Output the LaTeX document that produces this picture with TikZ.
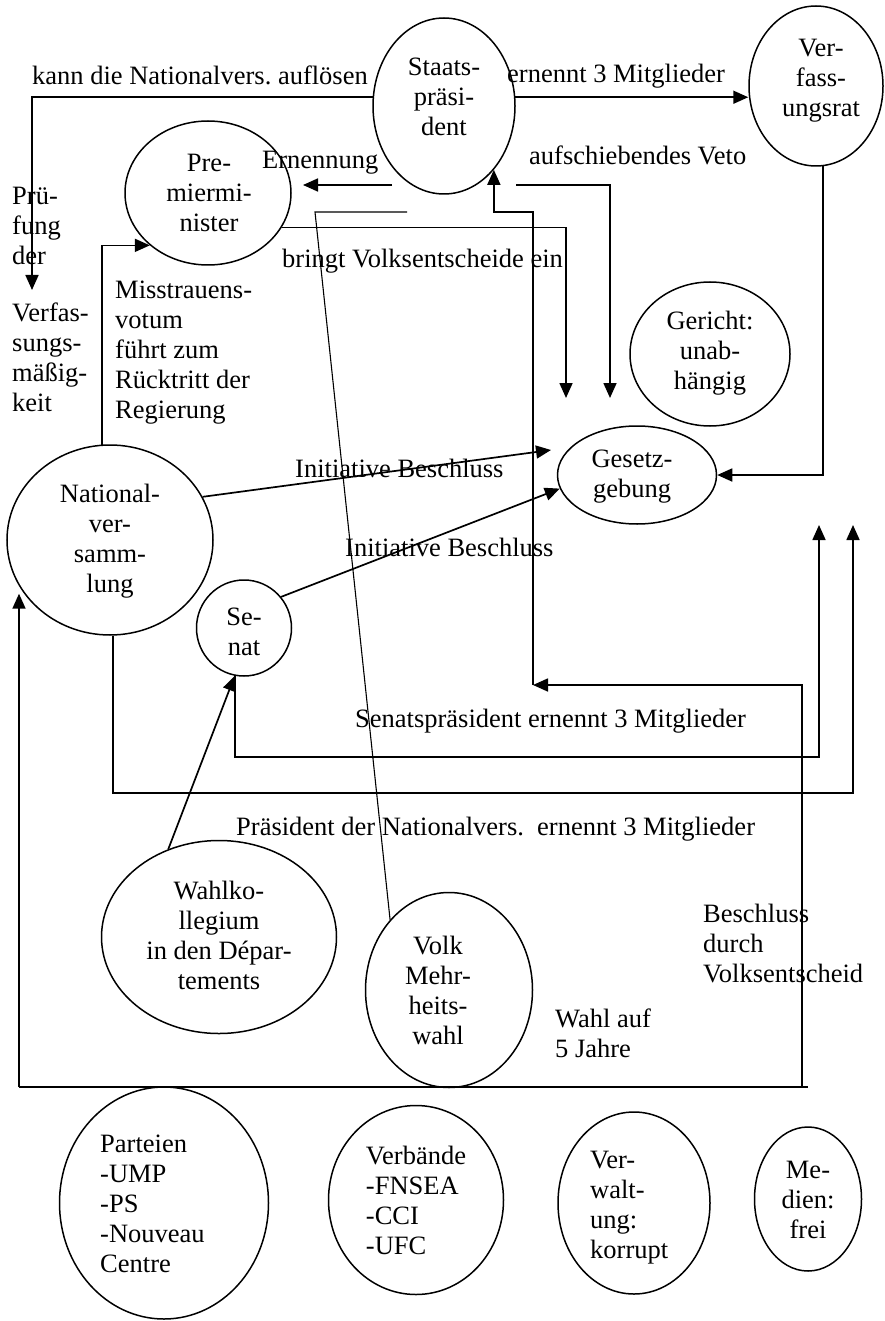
\documentclass[tikz,border=0pt]{standalone}
\usepackage{fontspec}
\setmainfont{Liberation Serif}
\usetikzlibrary{arrows.meta,shapes.geometric,positioning}
\begin{document}
\frenchspacing
\begin{tikzpicture}[x=1pt,y=-1pt,
  every node/.style={font=\fontsize{26.5}{30}\selectfont},
  oval/.style={draw,ellipse,line width=1.5pt,inner sep=0pt},
  inhalt/.style={inner sep=0pt,align=center},
  marke/.style={inner sep=0pt,align=left,anchor=west},
  pfeil/.style={-{Triangle[length=15pt,width=13pt]},line width=1.7pt},
  linie/.style={line width=1.7pt},
  duenn/.style={line width=1.1pt}]
  \useasboundingbox (0,0) rectangle (885,1321);
  \node[oval,minimum width=142pt,minimum height=176pt] (staat) at (444,106) {};
  \node[inhalt] (staat-t) at (444,97) {Staats-\\präsi-\\dent};
  \node[oval,minimum width=134pt,minimum height=160pt] (vrat) at (816,86) {};
  \node[inhalt] (vrat-t) at (821,81) {Ver-\\fass-\\ungsrat};
  \node[oval,minimum width=166pt,minimum height=144pt] (premier) at (208,193) {};
  \node[inhalt] (premier-t) at (209,193) {Pre-\\miermi-\\nister};
  \node[oval,minimum width=206pt,minimum height=190pt] (natvers) at (110,540) {};
  \node[inhalt] (natvers-t) at (110,541) {National-\\ver-\\samm-\\lung};
  \node[oval,minimum width=95pt,minimum height=96pt] (senat) at (244,628) {};
  \node[inhalt] (senat-t) at (244,632) {Se-\\nat};
  \node[oval,minimum width=159pt,minimum height=98pt] (gesetz) at (637,475) {};
  \node[inhalt] (gesetz-t) at (632,477) {Gesetz-\\gebung};
  \node[oval,minimum width=160pt,minimum height=144pt] (gericht) at (710,354) {};
  \node[inhalt] (gericht-t) at (710,353) {Gericht:\\unab-\\hängig};
  \node[oval,minimum width=235pt,minimum height=193pt] (wahlkoll) at (219,937) {};
  \node[inhalt] (wahlkoll-t) at (219,935) {Wahlko-\\llegium\\in den Dépar-\\tements};
  \node[oval,minimum width=167pt,minimum height=195pt] (volk) at (449,990) {};
  \node[inhalt] (volk-t) at (438,990) {Volk\\Mehr-\\heits-\\wahl};
  \node[oval,minimum width=209pt,minimum height=232pt] (parteien) at (164,1203) {};
  \node[marke] (parteien-t) at (100,1204) {Parteien\\-UMP\\-PS\\-Nouveau\\Centre};
  \node[oval,minimum width=175pt,minimum height=189pt] (verbaende) at (416,1200) {};
  \node[inhalt,align=left] (verbaende-t) at (416,1200) {Verbände\\-FNSEA\\-CCI\\-UFC};
  \node[oval,minimum width=152pt,minimum height=182pt] (verwaltung) at (634,1203) {};
  \node[marke] (verwaltung-t) at (590,1208) {Ver-\\walt-\\ung:\\korrupt};
  \node[oval,minimum width=107pt,minimum height=144pt] (medien) at (808,1199) {};
  \node[inhalt] (medien-t) at (808,1200) {Me-\\dien:\\frei};

  \node[marke] (aufloesen) at (32,75) {kann die Nationalvers. auflösen};
  \node[marke] (ernennt3) at (507,76) {ernennt 3 Mitglieder};
  \node[marke] (ernennung) at (262,163) {Ernennung};
  \node[marke] (veto) at (529,155) {aufschiebendes Veto};
  \node[marke] (volksent) at (282,261) {bringt Volksentscheide ein};
  \node[marke] (pruefung) at (12,226) {Prü-\\fung\\der};
  \node[marke] (verfmaess) at (12,357) {Verfas-\\sungs-\\mäßig-\\keit};
  \node[marke] (misstrauen) at (115,353) {Misstrauens-\\votum\\führt zum\\Rücktritt der\\Regierung};
  \node[marke] (init1) at (295,468) {Initiative Beschluss};
  \node[marke] (init2) at (345,547) {Initiative Beschluss};
  \node[marke] (senpraes) at (355,721) {Senatspräsident ernennt 3 Mitglieder};
  \node[marke] (nvpraes) at (236,829) {Präsident der Nationalvers.\ \ ernennt 3 Mitglieder};
  \node[marke] (beschluss) at (703,943) {Beschluss\\durch\\Volksentscheid};
  \node[marke] (wahl5) at (555,1033) {Wahl auf\\5 Jahre};

  \coordinate (pruefziel) at (32,290);
  \coordinate (ernstart) at (392,185);
  \coordinate (ernziel) at (303,185);
  \coordinate (volkstart) at (407,212);
  \coordinate (volkknick) at (315,212);
  \coordinate (veziel1) at (566,398);
  \coordinate (vetostart) at (516,185);
  \coordinate (veziel2) at (610,398);
  \coordinate (ini1ziel) at (551,450);
  \coordinate (nvecke) at (853,793);
  \coordinate (nvziel) at (853,525);
  \coordinate (senecke) at (819,757);
  \coordinate (senziel) at (819,525);
  \coordinate (wahlL) at (19,1087);
  \coordinate (wahlR) at (808,1087);
  \coordinate (vsunten) at (802,1087);
  \coordinate (vsmitte) at (533,685);
  \coordinate (vsoben) at (533,212);

  \draw[pfeil] (staat.173) -| (pruefziel);
  \draw[pfeil] (staat.7) -- (staat.7 -| vrat.west);
  \draw[pfeil] (ernstart) -- (ernziel);
  \draw[duenn] (volkstart) -- (volkknick) -- (volk.130);
  \draw[pfeil] (premier.-25) -| (veziel1);
  \draw[pfeil] (vetostart) -| (veziel2);
  \draw[pfeil] (vrat.-85) |- (gesetz.east);
  \draw[pfeil] (natvers.95) |- (premier.222);
  \draw[pfeil] (natvers.25) -- (ini1ziel);
  \draw[pfeil] (senat.40) -- (gesetz.190);
  \draw[pfeil] (wahlkoll.120) -- (senat.259);
  \draw[pfeil] (natvers.-88) |- (nvecke) -- (nvziel);
  \draw[pfeil] (senat.259) |- (senecke) -- (senziel);
  \draw[linie] (wahlL) -- (wahlR);
  \draw[pfeil] (wahlL) -- (wahlL |- natvers.212);
  \draw[pfeil] (vsunten) |- (vsmitte);
  \draw[pfeil] (vsmitte) -- (vsoben) -| (staat.-52);
\end{tikzpicture}
\end{document}
